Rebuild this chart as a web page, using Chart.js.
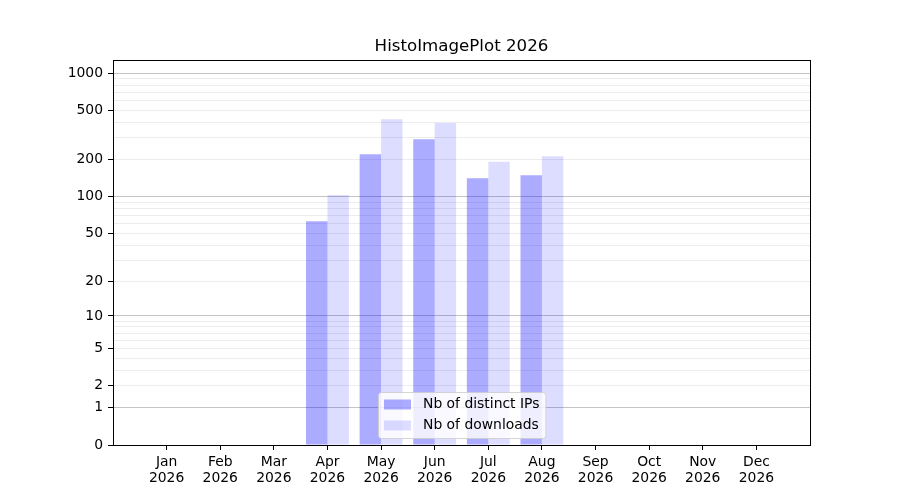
<!DOCTYPE html>
<html>
<head>
<meta charset="utf-8">
<script src="https://cdn.jsdelivr.net/npm/chart.js@4.4.1/dist/chart.umd.min.js"></script>
<style>
  html, body { margin: 0; padding: 0; background: #fff; }
  #wrap { width: 900px; height: 500px; }
</style>
</head>
<body>
<div id="wrap"><canvas id="histoChart"></canvas></div>
<script>
var months = ['Jan', 'Feb', 'Mar', 'Apr', 'May', 'Jun', 'Jul', 'Aug', 'Sep', 'Oct', 'Nov', 'Dec'];
var year = '2026';
var chartTitle = 'HistoImagePlot 2026';
var distinctIPs = [0, 0, 0, 63, 221, 293, 141, 149, 0, 0, 0, 0];
var downloads = [0, 0, 0, 103, 424, 396, 192, 213, 0, 0, 0, 0];
var yLabelled = [0, 1, 2, 5, 10, 20, 50, 100, 200, 500, 1000];
var yMinor = [3, 4, 6, 7, 8, 9, 30, 40, 60, 70, 80, 90, 300, 400, 600, 700, 800, 900];
var yDecades = [1, 10, 100, 1000];
var yMax = 1278;

// symlog-style axis: position follows log10(1 + v)
function fwd(v) { return Math.log10(1 + Math.max(v, 0)); }
function inv(f) { return Math.pow(10, f) - 1; }

class SymlogScale extends Chart.Scale {
  determineDataLimits() {
    var mm = this.getMinMax(true);
    this.min = this.options.min != null ? this.options.min : Math.min(0, mm.min);
    this.max = this.options.max != null ? this.options.max : mm.max;
  }
  buildTicks() {
    var all = yLabelled.concat(yMinor).sort(function(a, b) { return a - b; });
    return all.map(function(v) { return { value: v }; });
  }
  getLabelForValue(value) { return String(value); }
  configure() {
    super.configure();
    this._startValue = fwd(this.min);
    this._valueRange = fwd(this.max) - fwd(this.min);
  }
  getPixelForValue(value) {
    return this.getPixelForDecimal((fwd(value) - this._startValue) / this._valueRange);
  }
  getValueForPixel(pixel) {
    return inv(this._startValue + this.getDecimalForPixel(pixel) * this._valueRange);
  }
}
SymlogScale.id = 'symlog';
SymlogScale.defaults = {};
Chart.register(SymlogScale);

var tickFont = { family: 'DejaVu Sans', size: 13.9, lineHeight: 1.15 };

// title over the plot, box around the plot, matplotlib-like legend inside it
var framePlugin = {
  id: 'frameAndLegend',
  afterDraw: function(chart) {
    var ctx = chart.ctx;
    var a = chart.chartArea;
    ctx.save();
    ctx.strokeStyle = '#000';
    ctx.lineWidth = 1;
    ctx.strokeRect(a.left + 0.5, a.top + 0.5, a.right - a.left, a.bottom - a.top);

    ctx.fillStyle = '#000';
    ctx.font = '16.67px "DejaVu Sans"';
    ctx.textAlign = 'center';
    ctx.textBaseline = 'alphabetic';
    ctx.fillText(chartTitle, (a.left + a.right) / 2, a.top - 9);

    ctx.font = '13.9px "DejaVu Sans"';
    var ds = chart.data.datasets;
    var tw = 0;
    ds.forEach(function(d) { tw = Math.max(tw, ctx.measureText(d.label).width); });
    var w = 6 + 27 + 12 + tw + 6;
    var h = 46;
    var x0 = Math.round((a.left + a.right) / 2 - w / 2) + 0.5;
    var y0 = a.bottom - 7 - h + 0.5;
    ctx.beginPath();
    ctx.roundRect(x0, y0, w, h, 3);
    ctx.fillStyle = 'rgba(255,255,255,0.8)';
    ctx.fill();
    ctx.strokeStyle = 'rgba(204,204,204,0.8)';
    ctx.stroke();
    ds.forEach(function(d, i) {
      var cy = y0 + 12 + i * 21;
      ctx.fillStyle = d.backgroundColor;
      ctx.fillRect(x0 + 5.5, cy - 5, 27, 10);
      ctx.fillStyle = '#000';
      ctx.textBaseline = 'middle';
      ctx.textAlign = 'left';
      ctx.fillText(d.label, x0 + 44.5, cy);
    });
    ctx.restore();
  }
};

const histo = document.getElementById('histoChart');

let histoChart = new Chart(histo, {
  type: 'bar',
  data: {
    datasets: [
      {
        label: 'Nb of distinct IPs',
        backgroundColor: 'rgba(0, 0, 255, 0.33)',
        data: distinctIPs.map(function(v, i) { return { x: i, y: v }; })
      },
      {
        label: 'Nb of downloads',
        backgroundColor: 'rgba(0, 0, 255, 0.133)',
        data: downloads.map(function(v, i) { return { x: i, y: v }; })
      }
    ]
  },
  options: {
    responsive: true,
    maintainAspectRatio: false,
    animation: false,
    devicePixelRatio: 1,
    layout: { padding: { left: 0, right: 90, top: 60, bottom: 0 } },
    datasets: { bar: { categoryPercentage: 0.8, barPercentage: 1.0, borderWidth: 0 } },
    plugins: {
      legend: { display: false },
      tooltip: { enabled: false },
      title: { display: false }
    },
    scales: {
      x: {
        type: 'linear',
        min: -1,
        max: 12,
        offset: false,
        afterBuildTicks: function(scale) {
          scale.ticks = months.map(function(m, i) { return { value: i }; });
        },
        afterFit: function(scale) { scale.height = 55; },
        grid: { offset: false, drawOnChartArea: false, drawTicks: true, tickLength: 5, color: '#000' },
        border: { display: true, color: '#000', width: 1 },
        ticks: {
          autoSkip: false,
          maxRotation: 0,
          padding: 4,
          color: '#000',
          font: tickFont,
          callback: function(value) { return [months[value], year]; }
        }
      },
      y: {
        type: 'symlog',
        position: 'left',
        min: 0,
        max: yMax,
        afterFit: function(scale) { scale.width = 113; },
        grid: {
          drawTicks: true,
          tickLength: 5,
          color: function(c) {
            var v = c.tick ? c.tick.value : null;
            if (v === 0) return 'rgba(0,0,0,0)';
            return yDecades.indexOf(v) >= 0 ? '#c4c4c4' : '#ececec';
          },
          tickColor: function(c) {
            var v = c.tick ? c.tick.value : null;
            return yLabelled.indexOf(v) >= 0 ? '#000' : 'rgba(0,0,0,0)';
          }
        },
        border: { display: true, color: '#000', width: 1 },
        ticks: {
          autoSkip: false,
          padding: 5,
          color: '#000',
          font: tickFont,
          callback: function(value) {
            return yLabelled.indexOf(value) >= 0 ? String(value) : '';
          }
        }
      }
    }
  },
  plugins: [framePlugin]
});
</script>
</body>
</html>
